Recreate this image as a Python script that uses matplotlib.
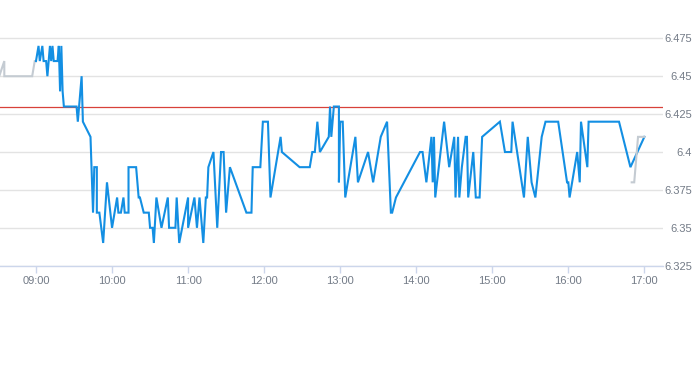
import matplotlib
matplotlib.use('Agg')
import matplotlib.pyplot as plt
import matplotlib.dates as mdates
import pandas as pd

DAY = "2024-01-02 "

# pre-market (grey)
pre_times = ["08:31", "08:35", "08:35", "08:57", "08:59", "09:00"]
pre_prices = [6.45, 6.46, 6.45, 6.45, 6.46, 6.46]

# regular session (blue)
main_times = [
    "09:00", "09:02", "09:03", "09:05", "09:06", "09:08", "09:09", "09:11", "09:12", "09:13",
    "09:14", "09:17", "09:18", "09:19", "09:20", "09:21", "09:22", "09:32", "09:33", "09:36",
    "09:37", "09:43", "09:45", "09:46", "09:48", "09:48", "09:50", "09:53", "09:56", "10:00",
    "10:04", "10:05", "10:07", "10:09", "10:10", "10:13", "10:13", "10:19", "10:21", "10:22",
    "10:25", "10:29", "10:30", "10:32", "10:33", "10:35", "10:39", "10:44", "10:45", "10:50",
    "10:51", "10:53", "11:00", "11:00", "11:05", "11:07", "11:09", "11:12", "11:14", "11:15",
    "11:16", "11:20", "11:23", "11:26", "11:28", "11:30", "11:33", "11:46", "11:50", "11:51",
    "11:57", "11:59", "12:03", "12:05", "12:13", "12:14", "12:28", "12:36", "12:38", "12:40",
    "12:42", "12:44", "12:51", "12:52", "12:53", "12:55", "12:59", "12:59", "13:00", "13:02",
    "13:04", "13:12", "13:14", "13:22", "13:26", "13:32", "13:37", "13:40", "13:41", "13:44",
    "14:03", "14:05", "14:08", "14:12", "14:13", "14:14", "14:15", "14:22", "14:26", "14:30",
    "14:31", "14:33", "14:34", "14:36", "14:39", "14:40", "14:41", "14:45", "14:47", "14:50",
    "14:52", "15:06", "15:10", "15:15", "15:16", "15:25", "15:28", "15:31", "15:34", "15:39",
    "15:42", "15:52", "15:59", "16:00", "16:01", "16:07", "16:09", "16:10", "16:15", "16:16",
    "16:40", "16:49", "17:00",
]
main_prices = [
    6.46, 6.47, 6.46, 6.47, 6.46, 6.46, 6.45, 6.47, 6.46, 6.47,
    6.46, 6.46, 6.47, 6.44, 6.47, 6.44, 6.43, 6.43, 6.42, 6.45,
    6.42, 6.41, 6.36, 6.39, 6.39, 6.36, 6.36, 6.34, 6.38, 6.35,
    6.37, 6.36, 6.36, 6.37, 6.36, 6.36, 6.39, 6.39, 6.37, 6.37,
    6.36, 6.36, 6.35, 6.35, 6.34, 6.37, 6.35, 6.37, 6.35, 6.35,
    6.37, 6.34, 6.37, 6.35, 6.37, 6.35, 6.37, 6.34, 6.37, 6.37,
    6.39, 6.40, 6.35, 6.40, 6.40, 6.36, 6.39, 6.36, 6.36, 6.39,
    6.39, 6.42, 6.42, 6.37, 6.41, 6.40, 6.39, 6.39, 6.40, 6.40,
    6.42, 6.40, 6.41, 6.43, 6.41, 6.43, 6.43, 6.38, 6.42, 6.42,
    6.37, 6.41, 6.38, 6.40, 6.38, 6.41, 6.42, 6.36, 6.36, 6.37,
    6.40, 6.40, 6.38, 6.41, 6.38, 6.41, 6.37, 6.42, 6.39, 6.41,
    6.37, 6.41, 6.37, 6.39, 6.41, 6.41, 6.37, 6.40, 6.37, 6.37,
    6.41, 6.42, 6.40, 6.40, 6.42, 6.37, 6.41, 6.38, 6.37, 6.41,
    6.42, 6.42, 6.38, 6.38, 6.37, 6.40, 6.38, 6.42, 6.39, 6.42,
    6.42, 6.39, 6.41,
]

# after-hours (grey)
post_times = ["16:50", "16:52", "16:55", "17:00"]
post_prices = [6.38, 6.38, 6.41, 6.41]

prev_close = 6.43

y_ticks = [6.325, 6.35, 6.375, 6.4, 6.425, 6.45, 6.475]
y_labels = ["6.325", "6.35", "6.375", "6.4", "6.425", "6.45", "6.475"]
x_tick_hours = ["09:00", "10:00", "11:00", "12:00", "13:00", "14:00", "15:00", "16:00", "17:00"]
x_range = ["08:31:36", "17:14:42"]


def to_dt(lst):
    return pd.to_datetime([DAY + s for s in lst])


plt.rcParams['font.family'] = ['Liberation Sans', 'DejaVu Sans']

W, H = 693, 365
fig = plt.figure(figsize=(W / 100, H / 100), dpi=100)
y_bottom_px = 265.7
y_top_px = 30.74
ax = fig.add_axes([0, 1 - y_bottom_px / H, 663 / W, (y_bottom_px - y_top_px) / H])

grey = '#c4cbd2'
blue = '#138fe3'
ax.plot(to_dt(pre_times), pre_prices, color=grey, lw=1.5, zorder=3, solid_joinstyle='miter')
ax.plot(to_dt(main_times), main_prices, color=blue, lw=1.5, zorder=4, solid_joinstyle='miter')
ax.plot(to_dt(post_times), post_prices, color=grey, lw=1.5, zorder=5, solid_joinstyle='miter')
ax.axhline(prev_close, color='#d8413a', lw=0.9, zorder=2)

ax.set_ylim(6.325, 6.48)
ax.set_yticks(y_ticks)
ax.set_yticklabels(y_labels)
ax.yaxis.tick_right()
ax.tick_params(axis='y', length=0, pad=20.9, labelsize=8.0, labelcolor='#737b87')
for lab in ax.get_yticklabels():
    lab.set_horizontalalignment('right')
ax.grid(axis='y', color='#e3e3e3', lw=1.0, zorder=0)
ax.set_axisbelow(True)

xr = to_dt(x_range)
ax.set_xlim(xr[0], xr[1])
ax.set_xticks(to_dt(x_tick_hours))
ax.xaxis.set_major_formatter(mdates.DateFormatter('%H:%M'))
ax.tick_params(axis='x', length=5, width=1, color='#ccd6eb', pad=2.5,
               labelsize=8.0, labelcolor='#737b87')

for s in ['top', 'left', 'right']:
    ax.spines[s].set_visible(False)
ax.spines['bottom'].set_color('#ccd6eb')
ax.spines['bottom'].set_linewidth(1.0)

fig.savefig('out.png', dpi=100)
